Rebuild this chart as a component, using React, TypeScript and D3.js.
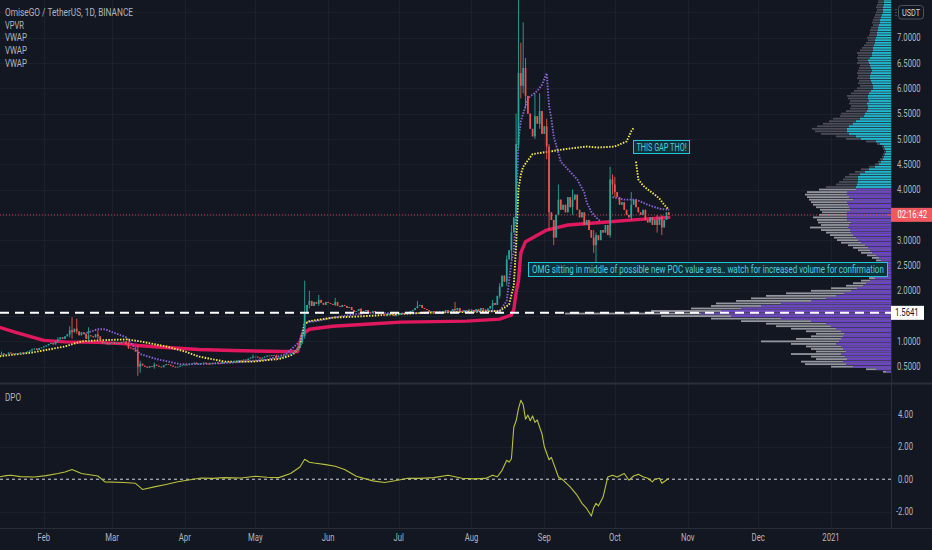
import React from 'react';
import * as d3 from 'd3';

const WIDTH = 932;
const HEIGHT = 550;
const PLOT_RIGHT = 891;
const MAIN_BOTTOM = 383;
const DPO_TOP = 384;
const DPO_BOTTOM = 528;

const BG = '#131722';
const GRID = '#1c202c';
const BORDER = '#2a2e39';
const TEXT = '#b2b5be';
const UP = '#26a69a';
const DOWN = '#ef5350';
const SX = 0.77; // the screenshot text is horizontally squeezed

// daily closes, one array per month; a candle opens at the previous close
const janCloses = [0.58, 0.60, 0.62, 0.61, 0.64, 0.66, 0.65, 0.67, 0.66, 0.69, 0.70, 0.72, 0.74, 0.76, 0.73, 0.75, 0.78, 0.76, 0.74, 0.77, 0.75, 0.78, 0.76, 0.78, 0.80, 0.82, 0.84, 0.86, 0.83, 0.87, 0.88];
const febCloses = [0.90, 0.92, 0.95, 0.97, 0.94, 1.00, 1.04, 1.08, 1.05, 1.10, 1.14, 1.22, 1.18, 1.25, 1.20, 1.12, 1.18, 1.15, 1.05, 1.12, 1.10, 1.08, 1.14, 1.10, 1.02, 0.96, 0.98, 0.94, 0.97];
const marCloses = [0.98, 0.95, 0.97, 0.96, 0.99, 1.00, 0.94, 0.88, 0.86, 0.84, 0.80, 0.50, 0.56, 0.52, 0.50, 0.48, 0.51, 0.50, 0.54, 0.52, 0.50, 0.49, 0.53, 0.55, 0.54, 0.52, 0.50, 0.49, 0.50, 0.52, 0.53];
const aprCloses = [0.54, 0.53, 0.55, 0.56, 0.58, 0.55, 0.56, 0.57, 0.58, 0.56, 0.55, 0.57, 0.56, 0.58, 0.57, 0.56, 0.59, 0.58, 0.60, 0.58, 0.59, 0.61, 0.62, 0.63, 0.62, 0.64, 0.63, 0.66, 0.68, 0.70];
const mayCloses = [0.70, 0.68, 0.66, 0.68, 0.70, 0.72, 0.71, 0.73, 0.72, 0.66, 0.68, 0.70, 0.72, 0.74, 0.73, 0.76, 0.78, 0.82, 0.88, 0.98, 1.10, 1.55, 1.72, 1.80, 1.70, 1.78, 1.74, 1.82, 1.76, 1.72, 1.78];
const junCloses = [1.76, 1.74, 1.72, 1.78, 1.70, 1.68, 1.72, 1.70, 1.66, 1.68, 1.62, 1.58, 1.60, 1.64, 1.56, 1.60, 1.62, 1.58, 1.56, 1.60, 1.58, 1.55, 1.57, 1.54, 1.50, 1.52, 1.55, 1.53, 1.50, 1.52];
const julCloses = [1.53, 1.56, 1.54, 1.58, 1.56, 1.60, 1.62, 1.66, 1.70, 1.72, 1.66, 1.64, 1.62, 1.58, 1.60, 1.56, 1.58, 1.55, 1.57, 1.60, 1.62, 1.58, 1.60, 1.64, 1.62, 1.66, 1.60, 1.58, 1.62, 1.60, 1.63];
const augCloses = [1.62, 1.58, 1.64, 1.60, 1.66, 1.63, 1.60, 1.65, 1.70, 1.76, 1.72, 1.90, 2.08, 2.30, 2.18, 2.62, 2.80, 3.15, 3.45, 4.90, 6.30, 6.05, 6.40, 5.85, 5.50, 5.20, 5.05, 5.45, 5.30, 5.55, 5.10];
const sepCloses = [5.25, 4.85, 3.55, 3.40, 3.05, 3.50, 3.80, 3.60, 3.70, 3.55, 3.85, 3.65, 3.80, 3.90, 3.60, 3.45, 3.55, 3.30, 3.40, 3.20, 3.05, 2.90, 3.10, 3.00, 3.20, 3.15, 3.30, 3.10, 4.20, 4.10];
const octCloses = [3.95, 3.85, 3.70, 3.75, 3.60, 3.50, 3.45, 3.70, 3.80, 3.65, 3.55, 3.50, 3.60, 3.40, 3.35, 3.45, 3.30, 3.40, 3.30, 3.45, 3.25, 3.40, 3.55, 3.50];
const monthCloses = [janCloses, febCloses, marCloses, aprCloses, mayCloses, junCloses, julCloses, augCloses, sepCloses, octCloses];
const FIRST_OPEN = 0.57;

// visible wicks: date, high, low
const wicks: [string, number, number][] = [
  ['2020-01-14', 0.80, 0.72], ['2020-01-27', 0.86, 0.79], ['2020-02-07', 1.08, 0.98],
  ['2020-02-12', 1.30, 1.08], ['2020-02-13', 1.48, 1.05], ['2020-02-15', 1.45, 1.15],
  ['2020-02-20', 1.28, 1.00], ['2020-02-24', 1.22, 1.05], ['2020-03-08', 1.00, 0.85],
  ['2020-03-12', 0.92, 0.32], ['2020-03-13', 0.62, 0.38], ['2020-03-19', 0.58, 0.46],
  ['2020-04-30', 0.74, 0.66], ['2020-05-10', 0.74, 0.62], ['2020-05-21', 1.20, 0.95],
  ['2020-05-22', 2.20, 1.05], ['2020-05-24', 2.00, 1.65], ['2020-05-28', 1.92, 1.70],
  ['2020-06-04', 1.86, 1.70], ['2020-06-15', 1.66, 1.50], ['2020-07-09', 1.80, 1.65],
  ['2020-07-25', 1.78, 1.58], ['2020-08-10', 1.82, 1.62], ['2020-08-13', 2.15, 1.85],
  ['2020-08-16', 2.70, 2.10], ['2020-08-18', 3.30, 2.60], ['2020-08-20', 5.50, 3.30],
  ['2020-08-21', 9.60, 4.80], ['2020-08-22', 6.90, 5.80], ['2020-08-23', 7.30, 5.90],
  ['2020-08-24', 6.60, 5.60], ['2020-08-28', 5.90, 5.00], ['2020-08-30', 5.90, 5.20],
  ['2020-09-02', 5.40, 4.60], ['2020-09-03', 4.90, 3.20], ['2020-09-05', 3.40, 2.90],
  ['2020-09-07', 4.10, 3.50], ['2020-09-13', 4.00, 3.50], ['2020-09-22', 3.20, 2.75],
  ['2020-09-23', 3.15, 2.55], ['2020-09-29', 4.45, 3.05], ['2020-09-30', 4.30, 3.90],
  ['2020-10-01', 4.25, 3.85], ['2020-10-08', 3.95, 3.40], ['2020-10-19', 3.50, 3.15],
  ['2020-10-21', 3.50, 3.10],
];

// anchored VWAPs
const pinkVwap: [string, number][] = [
  ['2020-01-10', 1.32], ['2020-01-20', 1.18], ['2020-02-01', 1.02], ['2020-02-10', 0.99],
  ['2020-02-24', 0.98], ['2020-03-07', 0.95], ['2020-03-12', 0.92], ['2020-03-24', 0.88],
  ['2020-04-07', 0.84], ['2020-04-21', 0.82], ['2020-05-13', 0.80], ['2020-05-19', 0.80],
  ['2020-05-21', 1.14], ['2020-05-24', 1.24], ['2020-06-03', 1.30], ['2020-06-17', 1.34],
  ['2020-07-02', 1.38], ['2020-07-30', 1.40], ['2020-08-13', 1.44], ['2020-08-18', 1.52],
  ['2020-08-19', 1.63], ['2020-08-20', 1.97], ['2020-08-21', 2.20], ['2020-08-22', 2.75],
  ['2020-08-24', 2.97], ['2020-09-02', 3.20], ['2020-09-11', 3.30], ['2020-09-25', 3.35],
  ['2020-10-09', 3.40], ['2020-10-24', 3.45],
];
const yellowVwapA: [string, number][] = [
  ['2020-01-12', 0.70], ['2020-01-27', 0.78], ['2020-02-10', 0.90], ['2020-02-17', 1.00],
  ['2020-02-24', 1.02], ['2020-03-07', 1.04], ['2020-03-13', 1.00], ['2020-03-24', 0.90],
  ['2020-04-01', 0.80], ['2020-04-07', 0.70], ['2020-04-18', 0.60], ['2020-04-30', 0.60],
  ['2020-05-12', 0.66], ['2020-05-17', 0.74], ['2020-05-20', 0.90], ['2020-05-22', 1.34],
  ['2020-05-24', 1.40], ['2020-06-03', 1.47], ['2020-06-17', 1.50], ['2020-07-01', 1.54],
  ['2020-07-15', 1.57], ['2020-07-30', 1.58], ['2020-08-13', 1.60], ['2020-08-17', 1.73],
  ['2020-08-19', 2.10], ['2020-08-20', 2.90], ['2020-08-21', 4.00], ['2020-08-22', 4.30],
  ['2020-08-23', 4.45], ['2020-08-27', 4.70], ['2020-09-03', 4.75], ['2020-09-10', 4.80],
  ['2020-09-19', 4.85], ['2020-09-24', 4.83], ['2020-10-01', 4.85], ['2020-10-06', 4.95],
  ['2020-10-08', 5.15], ['2020-10-09', 5.22],
];
const yellowVwapB: [string, number][] = [
  ['2020-10-10', 4.55], ['2020-10-11', 4.20], ['2020-10-13', 4.08], ['2020-10-15', 4.00],
  ['2020-10-18', 3.90], ['2020-10-20', 3.82], ['2020-10-22', 3.70], ['2020-10-24', 3.60],
];
const purpleVwapA: [string, number][] = [
  ['2020-02-18', 1.15], ['2020-02-24', 1.24], ['2020-02-27', 1.24], ['2020-03-07', 1.08],
  ['2020-03-13', 0.75], ['2020-03-20', 0.65], ['2020-03-30', 0.55], ['2020-04-07', 0.55],
  ['2020-04-21', 0.58], ['2020-05-06', 0.64], ['2020-05-14', 0.75], ['2020-05-20', 1.00],
  ['2020-05-22', 1.38], ['2020-05-27', 1.40], ['2020-06-03', 1.47], ['2020-06-17', 1.57],
  ['2020-07-01', 1.55], ['2020-07-15', 1.57], ['2020-07-30', 1.60], ['2020-08-13', 1.60],
  ['2020-08-16', 1.80], ['2020-08-18', 2.58], ['2020-08-19', 2.78], ['2020-08-20', 3.60],
  ['2020-08-21', 4.98], ['2020-08-22', 5.35], ['2020-08-25', 5.80], ['2020-08-29', 5.95],
  ['2020-08-31', 6.07], ['2020-09-02', 6.30], ['2020-09-03', 5.65], ['2020-09-04', 5.40],
  ['2020-09-05', 5.05], ['2020-09-08', 4.55], ['2020-09-11', 4.40], ['2020-09-15', 4.20],
  ['2020-09-18', 3.94], ['2020-09-19', 3.75], ['2020-09-21', 3.56], ['2020-09-23', 3.45],
  ['2020-09-25', 3.37],
];
const purpleVwapB: [string, number][] = [
  ['2020-09-30', 3.85], ['2020-10-05', 3.80], ['2020-10-10', 3.80], ['2020-10-15', 3.70],
  ['2020-10-20', 3.62], ['2020-10-24', 3.60],
];

// detrended price oscillator
const dpoPoints: [string, number][] = [
  ['2020-01-13', 0.14], ['2020-01-16', 0.22], ['2020-01-18', 0.25], ['2020-01-22', 0.16],
  ['2020-01-28', 0.14], ['2020-02-02', 0.22], ['2020-02-07', 0.35], ['2020-02-10', 0.45],
  ['2020-02-13', 0.60], ['2020-02-15', 0.48], ['2020-02-17', 0.35], ['2020-02-24', 0.20],
  ['2020-02-27', -0.16], ['2020-03-06', -0.20], ['2020-03-11', -0.25], ['2020-03-14', -0.63],
  ['2020-03-19', -0.47], ['2020-03-24', -0.32], ['2020-03-29', -0.16], ['2020-04-08', 0.08],
  ['2020-04-13', 0.05], ['2020-04-18', 0.10], ['2020-04-25', 0.08], ['2020-05-01', 0.18],
  ['2020-05-06', 0.12], ['2020-05-11', 0.10], ['2020-05-16', 0.35], ['2020-05-18', 0.55],
  ['2020-05-20', 0.75], ['2020-05-22', 1.23], ['2020-05-24', 1.05], ['2020-05-26', 1.00],
  ['2020-05-31', 0.90], ['2020-06-04', 0.80], ['2020-06-08', 0.60], ['2020-06-13', 0.18],
  ['2020-06-20', -0.10], ['2020-06-25', -0.20], ['2020-06-30', -0.08], ['2020-07-05', 0.06],
  ['2020-07-10', 0.05], ['2020-07-16', 0.10], ['2020-07-22', 0.25], ['2020-07-28', 0.06],
  ['2020-08-02', 0.02], ['2020-08-07', 0.05], ['2020-08-10', 0.25], ['2020-08-12', 0.15],
  ['2020-08-14', 0.55], ['2020-08-16', 1.17], ['2020-08-17', 1.05], ['2020-08-18', 1.26],
  ['2020-08-19', 3.20], ['2020-08-20', 3.60], ['2020-08-21', 4.35], ['2020-08-22', 4.86],
  ['2020-08-23', 4.60], ['2020-08-24', 3.70], ['2020-08-25', 3.95], ['2020-08-26', 3.60],
  ['2020-08-27', 3.90], ['2020-08-28', 3.50], ['2020-08-29', 3.65], ['2020-08-30', 3.20],
  ['2020-08-31', 2.80], ['2020-09-01', 2.00], ['2020-09-02', 1.60], ['2020-09-03', 1.20],
  ['2020-09-04', 1.35], ['2020-09-07', 0.14], ['2020-09-09', -0.05], ['2020-09-12', -0.47],
  ['2020-09-15', -1.00], ['2020-09-17', -1.48], ['2020-09-19', -1.80], ['2020-09-21', -2.27],
  ['2020-09-22', -1.75], ['2020-09-23', -1.48], ['2020-09-24', -1.65], ['2020-09-26', -1.10],
  ['2020-09-28', 0.14], ['2020-09-30', 0.25], ['2020-10-02', 0.14], ['2020-10-05', 0.35],
  ['2020-10-07', -0.06], ['2020-10-09', 0.20], ['2020-10-11', 0.30], ['2020-10-13', 0.15],
  ['2020-10-15', 0.06], ['2020-10-17', -0.16], ['2020-10-18', 0.00], ['2020-10-20', 0.06],
  ['2020-10-21', -0.25], ['2020-10-23', -0.05], ['2020-10-24', 0.06],
];

// visible-range volume profile, bins of 0.05 from 7.95 down to 0.40
const VP_TOP = 7.95;
const VP_STEP = 0.05;
const VALUE_AREA_HIGH = 4.02;
const vpTotal = [
  11, 11, 12, 12, 13, 13, 14, 15, 14, 15, 16, 17, 18, 19, 18, 20, 21, 21, 22, 24,
  23, 25, 27, 29, 31, 34, 33, 34, 33, 34, 31, 32, 33, 34, 33, 34, 32, 33, 31, 34,
  37, 40, 44, 43, 41, 42, 40, 41, 45, 50, 51, 58, 62, 68, 74, 79, 76, 70, 55, 45,
  25, 14, 9, 8, 7, 8, 9, 11, 13, 16, 22, 30, 36, 42, 46, 48, 52, 55, 65, 72,
  84, 86, 84, 82, 80, 78, 75, 71, 69, 72, 78, 74, 73, 70, 81, 70, 65, 61, 57, 54,
  50, 43, 38, 33, 30, 24, 19, 15, 11, 8, 6, 7, 9, 12, 22, 30, 38, 45, 60, 80,
  105, 125, 140, 155, 175, 180, 200, 240, 326, 230, 180, 150, 125, 115, 100, 85, 75, 80, 95, 130,
  100, 85, 80, 75, 100, 80, 75, 90, 86, 60, 25, 8,
];
const vpUp = [
  5, 5, 6, 6, 7, 7, 7, 8, 8, 8, 9, 10, 11, 11, 12, 13, 13, 14, 14, 15,
  16, 16, 17, 18, 18, 19, 19, 21, 23, 22, 21, 20, 19, 20, 21, 21, 20, 19, 18, 18,
  20, 22, 23, 23, 22, 24, 23, 23, 24, 26, 27, 31, 35, 38, 42, 44, 44, 42, 35, 30,
  15, 11, 7, 6, 5, 6, 7, 8, 10, 12, 16, 22, 26, 31, 33, 33, 33, 34, 35, 35,
  44, 44, 42, 38, 44, 43, 42, 41, 44, 44, 44, 44, 40, 42, 43, 41, 40, 38, 35, 33,
  30, 26, 23, 21, 19, 15, 12, 10, 8, 5, 4, 4, 6, 9, 16, 21, 25, 28, 34, 40,
  47, 55, 65, 80, 110, 130, 150, 170, 190, 160, 110, 80, 65, 60, 55, 50, 47, 48, 50, 52,
  55, 50, 48, 45, 50, 46, 44, 48, 45, 38, 15, 5,
];

const priceTicks = [0.5, 1, 2, 2.5, 3, 4, 4.5, 5, 5.5, 6, 6.5, 7];
const gridPrices = [0.5, 1, 1.5, 2, 2.5, 3, 3.5, 4, 4.5, 5, 5.5, 6, 6.5, 7, 7.5];
const dpoTicks = [4, 2, 0, -2];
const POC_PRICE = 1.5641;
const COUNTDOWN = '02:16:42';
const legendLines = ['OmiseGO / TetherUS, 1D, BINANCE', 'VPVR', 'VWAP', 'VWAP', 'VWAP'];
const legendWidths = [128, 19, 22, 22, 22];
const gapNote = 'THIS GAP THO!';
const pocNote = 'OMG sitting in middle of possible new POC value area.. watch for increased volume for confirmation';

const parse = d3.utcParse('%Y-%m-%d');
const fmtDay = d3.utcFormat('%Y-%m-%d');

const x = d3.scaleUtc()
    .domain([new Date(Date.UTC(2020, 0, 1)), new Date(Date.UTC(2021, 0, 1))])
    .range([-29, 831]);
const y = d3.scaleLinear().domain([0.5, 7]).range([366.7, 37.7]);
const yDpo = d3.scaleLinear().domain([-2, 4]).range([511.7, 414.3]);
const vpX = d3.scaleLinear().domain([0, 326]).range([PLOT_RIGHT, 565]);

const wickMap = new Map(wicks.map(([d, h, l]) => [d, [h, l]]));
let prevClose = FIRST_OPEN;
const candles = monthCloses.flatMap((closes, m) => closes.map((c, i) => {
    const date = new Date(Date.UTC(2020, m, i + 1));
    const o = prevClose;
    prevClose = c;
    const w = wickMap.get(fmtDay(date));
    return {
        date,
        o,
        c,
        h: Math.max(o, c, w ? w[0] : 0),
        l: Math.min(o, c, w ? w[1] : 99),
    };
}));
const lastClose = candles[candles.length - 1].c;

const priceLine = d3.line<[string, number]>()
    .x(d => x(parse(d[0]) as Date))
    .y(d => y(d[1]));
const dpoLine = d3.line<[string, number]>()
    .x(d => x(parse(d[0]) as Date))
    .y(d => yDpo(d[1]));

const months = d3.utcMonth.range(new Date(Date.UTC(2020, 1, 1)), new Date(Date.UTC(2021, 0, 2)));
const monthLabel = (d: Date) => d.getUTCMonth() === 0 ? d3.utcFormat('%Y')(d) : d3.utcFormat('%b')(d);

const Txt = ({x: tx, y: ty, size = 10, fill = TEXT, anchor = 'start', children}: any) => (
    <text transform={`translate(${tx},${ty}) scale(${SX},1)`} fontSize={size} fill={fill}
          textAnchor={anchor}>{children}</text>
);

const DOTS = {strokeWidth: 1.9, strokeDasharray: '1.5 1.4', fill: 'none'};

export default function App() {
    return (
        <svg width={WIDTH} height={HEIGHT} style={{display: 'block', position: 'absolute', left: 0, top: 0}}
             fontFamily="Roboto, 'Liberation Sans', sans-serif">
            <defs>
                <clipPath id="main-clip"><rect x={0} y={0} width={PLOT_RIGHT} height={MAIN_BOTTOM}/></clipPath>
                <clipPath id="dpo-clip"><rect x={0} y={DPO_TOP} width={PLOT_RIGHT} height={DPO_BOTTOM - DPO_TOP}/></clipPath>
            </defs>
            <rect width={WIDTH} height={HEIGHT} fill={BG}/>

            {/* grid */}
            <g stroke={GRID} strokeWidth={1}>
                {gridPrices.map(p => <line key={p} x1={0} x2={PLOT_RIGHT} y1={Math.round(y(p)) + 0.5} y2={Math.round(y(p)) + 0.5}/>)}
                {[4, 2, -2].map(v => <line key={v} x1={0} x2={PLOT_RIGHT} y1={Math.round(yDpo(v)) + 0.5} y2={Math.round(yDpo(v)) + 0.5}/>)}
                {months.map(m => (
                    <g key={+m}>
                        <line x1={Math.round(x(m)) + 0.5} x2={Math.round(x(m)) + 0.5} y1={0} y2={MAIN_BOTTOM}/>
                        <line x1={Math.round(x(m)) + 0.5} x2={Math.round(x(m)) + 0.5} y1={DPO_TOP} y2={DPO_BOTTOM}/>
                    </g>
                ))}
            </g>

            <g clipPath="url(#main-clip)">
                {/* volume profile */}
                {vpTotal.map((v, i) => {
                    const p = VP_TOP - i * VP_STEP;
                    const inValue = p <= VALUE_AREA_HIGH;
                    const yy = y(p) - 0.9;
                    return (
                        <g key={i}>
                            <rect x={vpX(v)} y={yy} width={PLOT_RIGHT - vpX(v)} height={1.8}
                                  fill={inValue ? '#94969f' : '#4a4d58'}/>
                            <rect x={vpX(vpUp[i])} y={yy} width={PLOT_RIGHT - vpX(vpUp[i])} height={1.8}
                                  fill={inValue ? '#6a41c4' : '#1fb9d2'}/>
                        </g>
                    );
                })}

                {/* VWAPs */}
                <path d={priceLine(pinkVwap) || ''} fill="none" stroke="#e0195f" strokeWidth={3.4}
                      strokeLinecap="round" strokeLinejoin="round"/>
                <path d={priceLine(purpleVwapA) || ''} stroke="#8a63d6" {...DOTS}/>
                <path d={priceLine(purpleVwapB) || ''} stroke="#8a63d6" {...DOTS}/>
                <path d={priceLine(yellowVwapA) || ''} stroke="#f5e84a" {...DOTS}/>
                <path d={priceLine(yellowVwapB) || ''} stroke="#f5e84a" {...DOTS}/>

                {/* candles */}
                {candles.map(d => {
                    const col = d.c >= d.o ? UP : DOWN;
                    const cx = x(d.date);
                    const top = y(Math.max(d.o, d.c));
                    const bot = y(Math.min(d.o, d.c));
                    return (
                        <g key={+d.date}>
                            <line x1={cx} x2={cx} y1={y(d.h)} y2={y(d.l)} stroke={col} strokeWidth={0.9}/>
                            <rect x={cx - 0.85} y={top} width={1.7} height={Math.max(0.8, bot - top)} fill={col}/>
                        </g>
                    );
                })}

                {/* current price line */}
                <line x1={0} x2={PLOT_RIGHT} y1={y(lastClose)} y2={y(lastClose)} stroke={DOWN}
                      strokeOpacity={0.75} strokeWidth={1} strokeDasharray="1 2"/>
                {/* POC level */}
                <line x1={0} x2={PLOT_RIGHT} y1={y(POC_PRICE)} y2={y(POC_PRICE)} stroke="#ffffff"
                      strokeWidth={2} strokeDasharray="9 6"/>

                {/* notes */}
                <rect x={633.5} y={140.5} width={56} height={13} fill="#10303a" stroke="#26c6da" strokeWidth={1}/>
                <text transform="translate(661.5,150.5) scale(0.77,1)" fontSize={10} fill="#4dd0e1"
                      textAnchor="middle" textLength={65} lengthAdjust="spacingAndGlyphs">{gapNote}</text>
                <rect x={528.5} y={262.5} width={359} height={14} fill="#10303a" stroke="#26c6da" strokeWidth={1}/>
                <text transform="translate(532,273) scale(0.78,1)" fontSize={10} fill="#4dd0e1"
                      textLength={451} lengthAdjust="spacingAndGlyphs">{pocNote}</text>
            </g>

            {/* DPO */}
            <g clipPath="url(#dpo-clip)">
                <line x1={0} x2={PLOT_RIGHT} y1={yDpo(0)} y2={yDpo(0)} stroke="#d1d4dc" strokeWidth={1}
                      strokeDasharray="3 3"/>
                <path d={dpoLine(dpoPoints) || ''} fill="none" stroke="#b9c23a" strokeWidth={1.1}
                      strokeLinejoin="round"/>
            </g>

            {/* panel borders */}
            <line x1={0} x2={WIDTH} y1={MAIN_BOTTOM + 0.5} y2={MAIN_BOTTOM + 0.5} stroke={BORDER} strokeWidth={2}/>
            <line x1={0} x2={WIDTH} y1={DPO_BOTTOM + 0.5} y2={DPO_BOTTOM + 0.5} stroke={BORDER}/>
            <line x1={PLOT_RIGHT + 0.5} x2={PLOT_RIGHT + 0.5} y1={0} y2={DPO_BOTTOM} stroke={BORDER}/>

            {/* legends */}
            {legendLines.map((t, i) => (
                <text key={i} x={5} y={16 + i * 12.7} fontSize={10} fill={TEXT} textLength={legendWidths[i]}
                      lengthAdjust="spacingAndGlyphs">{t}</text>
            ))}
            <text x={5} y={400.5} fontSize={10} fill={TEXT} textLength={16} lengthAdjust="spacingAndGlyphs">DPO</text>

            {/* price axis */}
            {priceTicks.map(p => (
                <Txt key={p} x={897} y={y(p) + 3.6} size={10}>{p.toFixed(4)}</Txt>
            ))}
            {dpoTicks.map(v => (
                <Txt key={v} x={v < 0 ? 896 : 898} y={yDpo(v) + 3.6} size={10}>{v.toFixed(2)}</Txt>
            ))}
            <rect x={898.5} y={5.5} width={25} height={13.5} rx={3} fill="none" stroke="#50535e"/>
            <Txt x={911} y={15.8} size={9.5} fill="#d1d4dc" anchor="middle">USDT</Txt>
            <line x1={896} x2={896} y1={9} y2={16} stroke="#787b86" strokeDasharray="1 2"/>

            {/* countdown / last price */}
            <line x1={887} x2={891} y1={y(lastClose)} y2={y(lastClose)} stroke={DOWN}/>
            <rect x={891} y={y(lastClose) - 7} width={41} height={14} fill="#f05a5f"/>
            <Txt x={897.5} y={y(lastClose) + 3.6} size={10} fill="#ffffff">{COUNTDOWN}</Txt>

            {/* POC price label */}
            <line x1={887} x2={891} y1={y(POC_PRICE)} y2={y(POC_PRICE)} stroke="#ffffff"/>
            <rect x={891} y={y(POC_PRICE) - 7} width={33} height={14} fill="#ffffff"/>
            <Txt x={895} y={y(POC_PRICE) + 3.6} size={10} fill="#131722">{POC_PRICE.toFixed(4)}</Txt>

            {/* time axis */}
            {months.map(m => (
                <Txt key={+m} x={x(m)} y={541} size={10} anchor="middle">{monthLabel(m)}</Txt>
            ))}
        </svg>
    );
}
